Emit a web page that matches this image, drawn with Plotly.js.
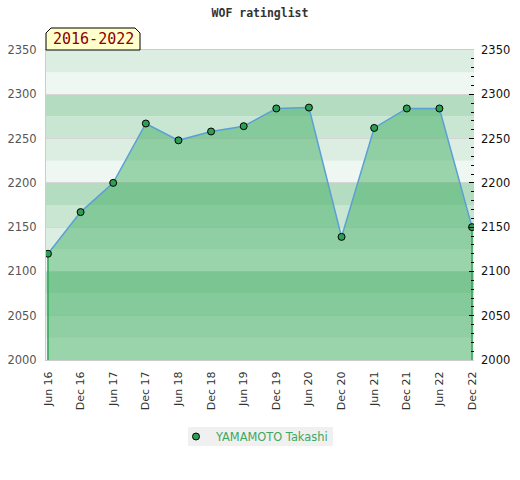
<!DOCTYPE html>
<html>
<head>
<meta charset="utf-8">
<script src="https://cdn.plot.ly/plotly-3.0.1.min.js"></script>
<style>html,body{margin:0;padding:0;background:#fff;}#chart{width:520px;height:480px;}</style>
</head>
<body>
<div id="chart"></div>
<script>
var periods = ["Jun 16","Dec 16","Jun 17","Dec 17","Jun 18","Dec 18","Jun 19","Dec 19","Jun 20","Dec 20","Jun 21","Dec 21","Jun 22","Dec 22"];
var ratings = [2120, 2167, 2200, 2267, 2248, 2258, 2264, 2284, 2285, 2139, 2262, 2284, 2284, 2150];
var playerName = "YAMAMOTO Takashi";
var periodLabel = "2016-2022";
var yMin = 2000, yMax = 2350;
var yTicks = [2000, 2050, 2100, 2150, 2200, 2250, 2300, 2350];

var PW = 428, PH = 310; // plot area size in px (for paper-unit conversions of decorations)
var bandColors = ["#eef7f1", "#dbeee1", "#c8e6d1", "#b3dcc1"];
var shapes = [];
for (var v = yMin, i = 0; v < yMax; v += 25, i++) {
  shapes.push({type:"rect", layer:"below", xref:"paper", yref:"y", x0:0, x1:1, y0:v, y1:v+25,
    fillcolor: bandColors[i % 4], line:{width:0}});
}
// label box with bevelled top corners
var bw = 94/PW, bh = 22/PH, cx = 5/PW, cy = 5/PH;
shapes.push({type:"path", layer:"above", xref:"paper", yref:"paper",
  path:"M 0 1 L 0 "+(1+bh-cy)+" L "+cx+" "+(1+bh)+" L "+(bw-cx)+" "+(1+bh)+" L "+bw+" "+(1+bh-cy)+" L "+bw+" 1 Z",
  fillcolor:"#ffffcc", line:{color:"#000", width:1}});
// legend background
shapes.push({type:"rect", layer:"above", xref:"paper", yref:"paper",
  x0:(188-46)/PW, x1:(333-46)/PW, y0:-(446-360)/PH, y1:-(427-360)/PH,
  fillcolor:"#f0f0f0", line:{width:0}});

var minorVals = [];
for (var t = yMin; t <= yMax; t += 10) { if (t % 50 !== 0) minorVals.push(t); }

var n = periods.length;
var traces = [
  {x: periods, y: ratings, type:"scatter", mode:"lines", fill:"tozeroy",
   fillcolor:"rgba(55,169,89,0.46)", line:{color:"#5b9fd6", width:1.5}, showlegend:false, hoverinfo:"skip"},
  {x: [periods[0], periods[0], null, periods[n-1], periods[n-1]],
   y: [yMin, ratings[0], null, yMin, ratings[n-1]], type:"scatter", mode:"lines",
   line:{color:"#2ea356", width:1.5}, showlegend:false, hoverinfo:"skip"},
  {x: periods, y: ratings, type:"scatter", mode:"markers", name: playerName,
   marker:{color:"#2e9e55", size:7, line:{color:"#000", width:1}}, showlegend:false},
  {x: [null], y: [null], type:"scatter", mode:"markers", name: playerName,
   marker:{color:"#2e9e55", size:7, line:{color:"#000", width:1}}, showlegend:true, yaxis:"y2"}
];

var layout = {
  width:520, height:480,
  margin:{l:46, r:46, t:50, b:120},
  paper_bgcolor:"#fff", plot_bgcolor:"#fff",
  font:{family:"DejaVu Sans", size:11, color:"#333"},
  title:{text:"WOF ratinglist", font:{family:"DejaVu Sans Mono", size:11.5, color:"#333", weight:"bold"},
    x:0.5, xanchor:"center", y:1-13/480, yanchor:"middle", yref:"container"},
  xaxis:{type:"category", range:[-0.06, n-1+0.06], tickangle:-90, showgrid:false,
    showline:true, linecolor:"#cccccc", linewidth:1, mirror:true, ticks:"", zeroline:false,
    ticklabelstandoff:6,
    tickfont:{family:"DejaVu Sans", size:11, color:"#333"}, fixedrange:true},
  yaxis:{range:[yMin, yMax], tickvals:yTicks, showgrid:true, gridcolor:"#d6d6d6", gridwidth:1,
    showline:true, linecolor:"#cccccc", linewidth:1, ticks:"", zeroline:false,
    ticklabelstandoff:6,
    tickfont:{family:"DejaVu Sans", size:11.5, color:"#555"}, fixedrange:true},
  yaxis2:{range:[yMin, yMax], tickvals:yTicks, overlaying:"y", side:"right", showgrid:false,
    ticks:"inside", ticklen:5, tickcolor:"#000", tickwidth:1, zeroline:false, showline:false,
    ticklabelstandoff:6,
    minor:{tickvals:minorVals, ticks:"inside", ticklen:3, tickcolor:"#000"},
    tickfont:{family:"DejaVu Sans", size:11.5, color:"#111"}, fixedrange:true},
  shapes: shapes,
  annotations:[{text: periodLabel, xref:"paper", yref:"paper", x:47/PW, y:1+11/PH, xanchor:"center", yanchor:"middle",
    showarrow:false, font:{family:"DejaVu Sans Mono", size:15, color:"#8b0000"}}],
  showlegend:true,
  legend:{orientation:"h", x:(176-46)/PW, xanchor:"left", y:-(436.5-360)/PH, yanchor:"middle",
    bgcolor:"rgba(0,0,0,0)", font:{family:"DejaVu Sans", size:11.4, color:"#3aa862"}}
};

Plotly.newPlot("chart", traces, layout, {displayModeBar:false, staticPlot:true});
</script>
</body>
</html>
